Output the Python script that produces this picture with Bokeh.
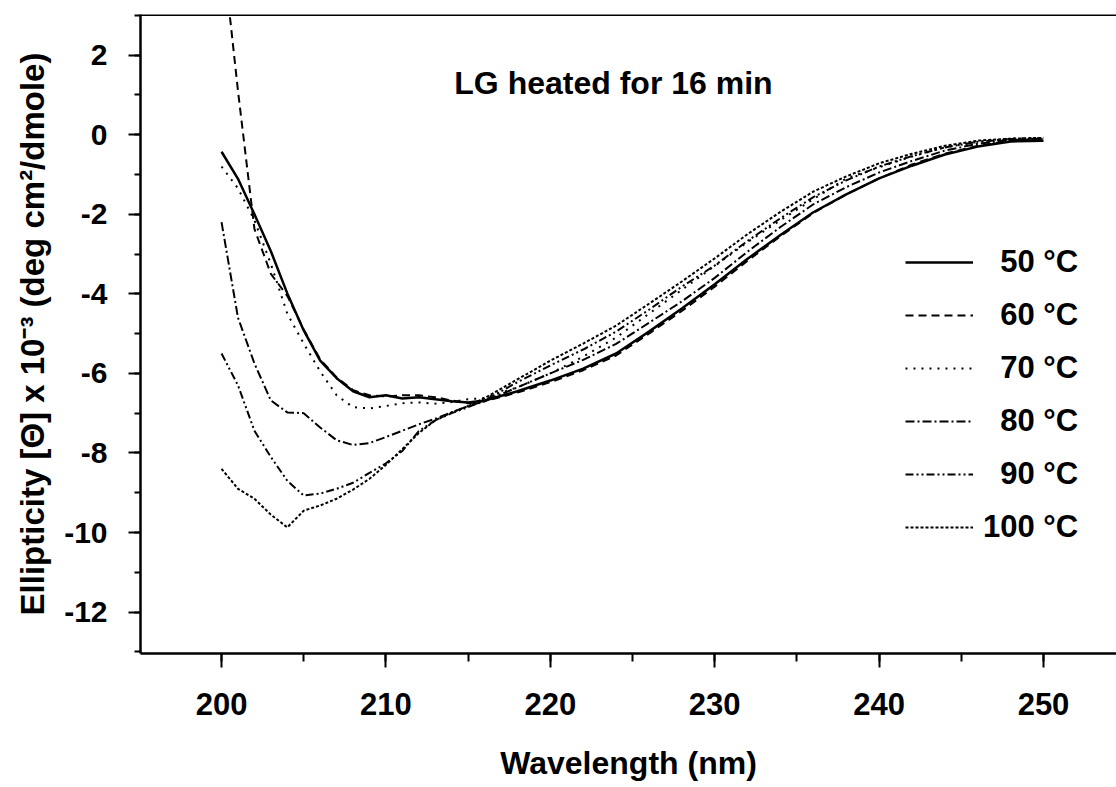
from bokeh.plotting import figure
from bokeh.models import Range1d, FixedTicker, Legend, LegendItem, Label, Span
from bokeh.embed import file_html
from bokeh.resources import INLINE

# ---- data ----
wavelength = [200, 201, 202, 203, 204, 205, 206, 207, 208, 209, 210, 211, 212, 213, 214, 215, 216,
              218, 220, 222, 224, 226, 228, 230, 232, 234, 236, 238, 240, 242, 244, 246, 248, 250]

labels = ["50 °C", "60 °C", "70 °C", "80 °C", "90 °C", "100 °C"]

cd_50 = [-0.43, -1.11, -2.0, -2.93, -3.99, -4.92, -5.68, -6.12, -6.45, -6.6, -6.55, -6.63, -6.6, -6.65, -6.7, -6.73, -6.68,
         -6.45, -6.18, -5.88, -5.5, -4.95, -4.37, -3.76, -3.12, -2.52, -1.95, -1.5, -1.1, -0.78, -0.5, -0.3, -0.17, -0.15]
cd_60 = [4.9, 1.1, -2.37, -3.5, -4.05, -4.9, -5.65, -6.1, -6.42, -6.55, -6.58, -6.55, -6.55, -6.6, -6.68, -6.75, -6.7,
         -6.48, -6.22, -5.92, -5.55, -5.0, -4.43, -3.82, -3.17, -2.55, -1.97, -1.5, -1.1, -0.75, -0.48, -0.28, -0.15, -0.1]
cd_70 = [-0.8, -1.35, -2.15, -3.25, -4.5, -5.25, -5.95, -6.55, -6.85, -6.88, -6.82, -6.75, -6.73, -6.76, -6.72, -6.65, -6.62,
         -6.35, -6.0, -5.58, -5.1, -4.5, -3.9, -3.3, -2.7, -2.15, -1.62, -1.1, -0.82, -0.55, -0.32, -0.18, -0.1, -0.08]
cd_80 = [-2.2, -4.6, -5.75, -6.68, -6.98, -7.0, -7.36, -7.68, -7.8, -7.75, -7.6, -7.44, -7.28, -7.14, -6.98, -6.82, -6.7,
         -6.35, -6.0, -5.66, -5.26, -4.73, -4.19, -3.6, -2.94, -2.32, -1.75, -1.32, -0.95, -0.66, -0.4, -0.23, -0.13, -0.12]
cd_90 = [-5.5, -6.3, -7.44, -8.1, -8.7, -9.07, -9.02, -8.9, -8.75, -8.5, -8.26, -7.95, -7.45, -7.18, -7.0, -6.85, -6.68,
         -6.22, -5.8, -5.4, -4.95, -4.4, -3.82, -3.29, -2.67, -2.1, -1.57, -1.15, -0.8, -0.54, -0.32, -0.18, -0.11, -0.1]
cd_100 = [-8.4, -8.9, -9.15, -9.55, -9.87, -9.45, -9.32, -9.15, -8.92, -8.65, -8.3, -7.9, -7.5, -7.18, -6.98, -6.82, -6.62,
          -6.15, -5.68, -5.25, -4.8, -4.25, -3.69, -3.11, -2.5, -1.94, -1.43, -1.05, -0.72, -0.48, -0.28, -0.15, -0.1, -0.08]

x_major = [200, 210, 220, 230, 240, 250]
x_minor = [195, 205, 215, 225, 235, 245]
y_major = [-12, -10, -8, -6, -4, -2, 0, 2]
y_minor = [-13, -11, -9, -7, -5, -3, -1, 1, 3]
y_tick_text = ["-12", "-10", "-8", "-6", "-4", "-2", "0", "2"]

X_START, X_END = 195.07, 254.44
Y_START, Y_END = -13.04, 3.02

FONT = "Liberation Sans"

p = figure(width=1116, height=787, output_backend="svg", toolbar_location=None,
           x_range=Range1d(X_START, X_END), y_range=Range1d(Y_START, Y_END),
           min_border_left=140, min_border_right=0, min_border_top=14, min_border_bottom=134,
           x_axis_label="Wavelength (nm)",
           y_axis_label="Ellipticity [Θ] x 10⁻³ (deg cm²/dmole)")
p.grid.visible = False
p.outline_line_color = None
p.background_fill_color = "white"
p.border_fill_color = "white"

# x axis (bottom)
xa = p.xaxis[0]
xa.ticker = FixedTicker(ticks=x_major, minor_ticks=x_major + x_minor)
xa.axis_line_width = 2.5
xa.major_tick_line_width = 2
xa.minor_tick_line_width = 2
xa.major_tick_in = 0
xa.major_tick_out = 14
xa.minor_tick_in = 0
xa.minor_tick_out = 8
xa.major_label_standoff = 25
xa.major_label_text_font = FONT
xa.major_label_text_font_style = "bold"
xa.major_label_text_font_size = "31px"
xa.major_label_text_color = "black"
xa.axis_label_standoff = 27
xa.axis_label_text_font = FONT
xa.axis_label_text_font_style = "bold"
xa.axis_label_text_font_size = "32px"
xa.axis_label_text_color = "black"

# y axis (left)
ya = p.yaxis[0]
ya.ticker = FixedTicker(ticks=y_major, minor_ticks=y_major + y_minor)
ya.major_label_overrides = dict(zip(y_major, y_tick_text))
ya.axis_line_width = 2.5
ya.major_tick_line_width = 2
ya.minor_tick_line_width = 2
ya.major_tick_in = 0
ya.major_tick_out = 12
ya.minor_tick_in = 0
ya.minor_tick_out = 6
ya.major_label_standoff = 21
ya.major_label_text_font = FONT
ya.major_label_text_font_style = "bold"
ya.major_label_text_font_size = "30px"
ya.major_label_text_color = "black"
ya.axis_label_standoff = 10
ya.axis_label_text_font = FONT
ya.axis_label_text_font_style = "bold"
ya.axis_label_text_font_size = "33px"
ya.axis_label_text_color = "black"

# top frame line
p.add_layout(Span(location=Y_END, dimension="width", line_color="black", line_width=3))

series = [cd_50, cd_60, cd_70, cd_80, cd_90, cd_100]
dashes = ["solid", "8 5", "2 6", "9 3 2 3", "8 3 2 3 2 3", "3 2"]
widths = [2.5, 2, 2, 2, 2, 2]

items = []
for lab, ys, dash, w in zip(labels, series, dashes, widths):
    r = p.line(wavelength, ys, line_color="black", line_width=w, line_dash=dash)
    # pad shorter labels with a figure space so the texts line up on the right
    shown = lab if len(lab) >= 6 else "\u2007" + lab
    items.append(LegendItem(label=shown, renderers=[r]))

legend = Legend(items=items, location=(765, 106), padding=0, margin=0,
                border_line_color=None, background_fill_alpha=0,
                glyph_width=68, glyph_height=40, label_height=40,
                label_standoff=10, spacing=13,
                label_text_font=FONT, label_text_font_style="bold",
                label_text_font_size="31px", label_text_color="black")
p.add_layout(legend)

p.add_layout(Label(x=223.84, y=1.3, text="LG heated for 16 min",
                   text_align="center", text_baseline="middle",
                   text_font=FONT, text_font_style="bold",
                   text_font_size="32px", text_color="black"))

open("out.html", "w").write(file_html(p, INLINE))
